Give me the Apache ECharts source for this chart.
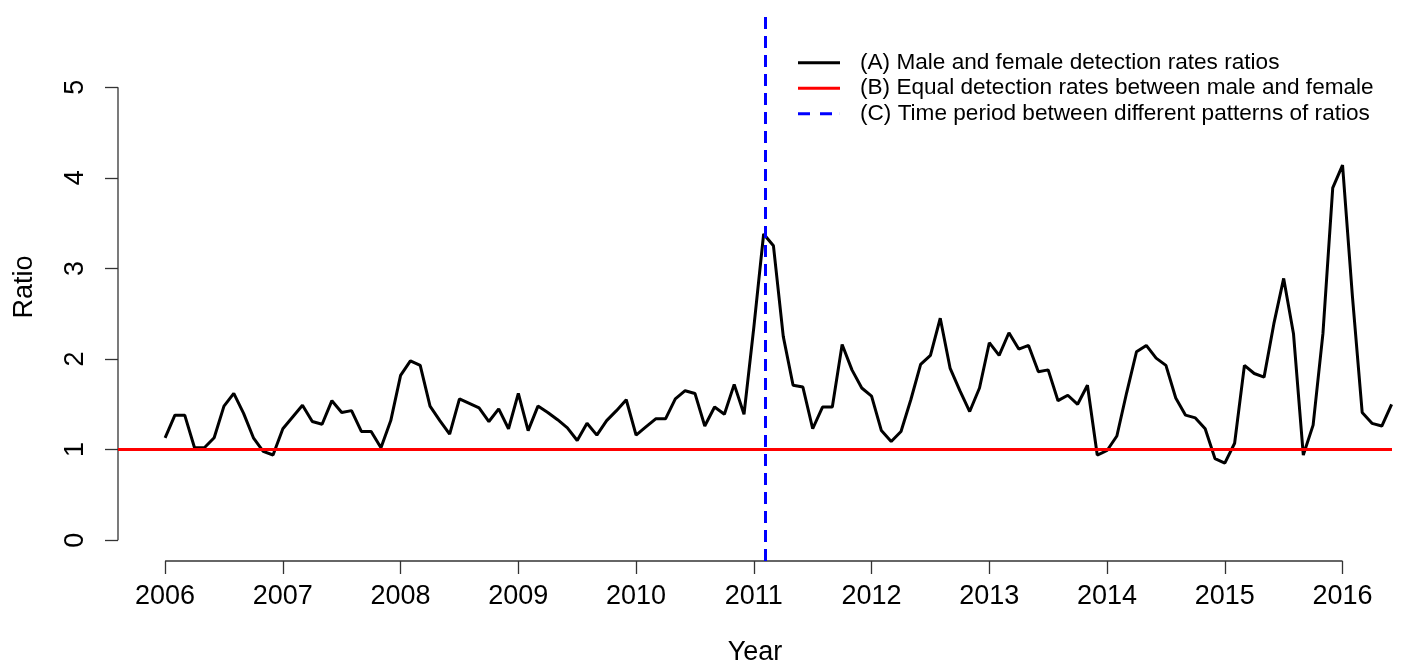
<!DOCTYPE html>
<html>
<head>
<meta charset="utf-8">
<title>Ratio by year</title>
<script src="https://cdn.jsdelivr.net/npm/echarts@6/dist/echarts.min.js"></script>
<style>
html, body { margin: 0; padding: 0; background: #fff; }
#chart { width: 1406px; height: 671px; }
</style>
</head>
<body>
<div id="chart"></div>
<script>
// monthly male/female detection rate ratios, Jan 2006 .. Jun 2016
const startYear = 2006
const ratios = [
    1.13, 1.38, 1.38, 1.02, 1.02, 1.13, 1.48, 1.62, 1.40, 1.13, 0.98, 0.94,
    1.23, 1.36, 1.49, 1.31, 1.28, 1.54, 1.41, 1.43, 1.20, 1.20, 1.02, 1.32,
    1.82, 1.98, 1.93, 1.48, 1.32, 1.17, 1.56, 1.51, 1.46, 1.31, 1.45, 1.23,
    1.62, 1.21, 1.48, 1.41, 1.33, 1.24, 1.10, 1.29, 1.16, 1.32, 1.43, 1.55,
    1.16, 1.25, 1.34, 1.34, 1.56, 1.65, 1.62, 1.26, 1.47, 1.39, 1.72, 1.39,
    2.35, 3.38, 3.25, 2.25, 1.71, 1.69, 1.23, 1.47, 1.47, 2.16, 1.88, 1.68,
    1.59, 1.21, 1.09, 1.20, 1.55, 1.94, 2.04, 2.45, 1.90, 1.65, 1.42, 1.68,
    2.18, 2.04, 2.29, 2.11, 2.15, 1.86, 1.88, 1.54, 1.60, 1.50, 1.71, 0.94,
    0.99, 1.15, 1.63, 2.08, 2.15, 2.01, 1.93, 1.57, 1.38, 1.35, 1.23, 0.90,
    0.85, 1.07, 1.93, 1.84, 1.80, 2.39, 2.89, 2.28, 0.94, 1.27, 2.28, 3.89,
    4.14, 2.70, 1.41, 1.29, 1.26, 1.50
]
const yearTicks = [2006, 2007, 2008, 2009, 2010, 2011, 2012, 2013, 2014, 2015, 2016]
const ratioTicks = [0, 1, 2, 3, 4, 5]
const equalLevel = 1
const breakYear = 2011.1
const legendNames = [
    '(A) Male and female detection rates ratios',
    '(B) Equal detection rates between male and female',
    '(C) Time period between different patterns of ratios'
]

const points = ratios.map((v, i) => [startYear + i / 12, v])

const font = 'Liberation Sans, Arial, sans-serif'
const axisColor = '#333'
const xMin = 2005.6
const xMax = 2016.42
const yMin = -0.23
const yMax = 5.82

// legend glyphs: solid bar, and "- -" for the dashed one
const solidIcon = 'path://M0,0H42V3H0Z'
const dashIcon = 'path://M0,0H12V3H0Z M22,0H34V3H22Z M41.9,0H42V3H41.9Z'

const chart = echarts.init(document.getElementById('chart'))

chart.setOption({
    animation: false,
    backgroundColor: '#fff',
    grid: { left: 118, top: 13, width: 1274, height: 553 },
    legend: {
        orient: 'vertical',
        left: 798,
        top: 50,
        padding: 0,
        itemWidth: 42,
        itemHeight: 3,
        itemGap: 0,
        selectedMode: false,
        data: [
            { name: legendNames[0], icon: solidIcon },
            { name: legendNames[1], icon: solidIcon },
            { name: legendNames[2], icon: dashIcon },
        ],
        textStyle: {
            fontFamily: font,
            fontSize: 22.6,
            color: '#000',
            lineHeight: 25.5,
            padding: [0, 0, 0, 15],
        },
    },
    xAxis: {
        type: 'value',
        min: xMin,
        max: xMax,
        splitLine: { show: false },
        axisLine: { show: false, onZero: false },
        axisTick: {
            show: true,
            customValues: yearTicks,
            length: 13,
            lineStyle: { color: axisColor, width: 1.3 },
        },
        axisLabel: {
            customValues: yearTicks,
            formatter: (v) => String(v),
            fontFamily: font,
            fontSize: 27,
            color: '#000',
            margin: 22,
        },
        name: 'Year',
        nameLocation: 'middle',
        nameGap: 78,
        nameTextStyle: { fontFamily: font, fontSize: 27, color: '#000' },
    },
    yAxis: {
        type: 'value',
        min: yMin,
        max: yMax,
        splitLine: { show: false },
        axisLine: { show: false, onZero: false },
        axisTick: {
            show: true,
            customValues: ratioTicks,
            length: 13,
            lineStyle: { color: axisColor, width: 1.3 },
        },
        axisLabel: {
            customValues: ratioTicks,
            formatter: (v) => String(v),
            rotate: 90,
            fontFamily: font,
            fontSize: 27,
            color: '#000',
            margin: 29,
        },
        name: 'Ratio',
        nameLocation: 'middle',
        nameGap: 80,
        nameTextStyle: { fontFamily: font, fontSize: 27, color: '#000' },
    },
    series: [
        {
            name: legendNames[0],
            type: 'line',
            data: points,
            symbol: 'none',
            z: 2,
            itemStyle: { color: '#000' },
            lineStyle: { color: '#000', width: 3 },
        },
        {
            name: legendNames[1],
            type: 'line',
            data: [],
            symbol: 'none',
            z: 3,
            itemStyle: { color: '#ff0000' },
            lineStyle: { color: '#ff0000', width: 3 },
            markLine: {
                silent: true,
                symbol: ['none', 'none'],
                label: { show: false },
                lineStyle: { color: '#ff0000', width: 3, type: 'solid' },
                data: [{ yAxis: equalLevel }],
            },
        },
        {
            name: legendNames[2],
            type: 'line',
            data: [],
            symbol: 'none',
            z: 4,
            itemStyle: { color: '#0000ff' },
            lineStyle: { color: '#0000ff', width: 3, type: [12, 7] },
            markLine: {
                silent: true,
                symbol: ['none', 'none'],
                label: { show: false },
                lineStyle: { color: '#0000ff', width: 3, type: [12, 7] },
                data: [{ xAxis: breakYear }],
            },
        },
    ],
})

// R-style axis lines: only span the first to last tick
const px = (v) => chart.convertToPixel({ xAxisIndex: 0 }, v)
const py = (v) => chart.convertToPixel({ yAxisIndex: 0 }, v)
const axisY = py(yMin)
const axisX = px(xMin)
chart.setOption({
    graphic: [
        {
            type: 'line',
            shape: { x1: px(yearTicks[0]), y1: axisY, x2: px(yearTicks[yearTicks.length - 1]), y2: axisY },
            style: { stroke: axisColor, lineWidth: 1.3 },
        },
        {
            type: 'line',
            shape: { x1: axisX, y1: py(ratioTicks[0]), x2: axisX, y2: py(ratioTicks[ratioTicks.length - 1]) },
            style: { stroke: axisColor, lineWidth: 1.3 },
        },
    ],
})
</script>
</body>
</html>
